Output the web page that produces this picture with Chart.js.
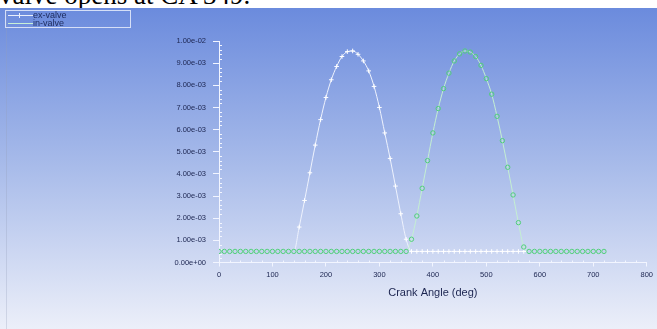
<!DOCTYPE html>
<html lang="en">
<head>
  <meta charset="UTF-8" />
  <title>Valve lift vs crank angle</title>
  <script src="https://cdn.jsdelivr.net/npm/chart.js"></script>
  <style>
    body { margin: 0; background: #fff; }
    #wrap { position: relative; width: 657px; height: 329px; overflow: hidden; background: #fff; }
    #caption { position: absolute; left: 0; top: 0; width: 657px; height: 8px; overflow: hidden; }
    #caption span { position: absolute; left: -1px; top: -18px; font: 27px/27px 'Liberation Serif', 'Times New Roman', serif; color: #000; white-space: nowrap; }
    #plot { position: absolute; left: 0; top: 8px; width: 657px; height: 321px;
            background: linear-gradient(#6b8bdd, #a9bcea 50%, #eceff9); }
    #plot .edge { position: absolute; left: 6px; top: 0; width: 1px; height: 100%; background: rgba(150,160,185,0.3); }
    #legend { position: absolute; left: 5px; top: 10px; width: 124px; height: 16px;
              border: 1px solid rgba(225,232,250,0.9); font: 9px/7px 'Liberation Sans', Arial, sans-serif; color: #1c2a5c; }
    #legend .row { position: relative; height: 7px; margin-top: 1px; }
    #legend .line { position: absolute; left: 2px; top: 3px; width: 25px; height: 1px; }
    #legend .mark { position: absolute; left: 13px; top: 1px; width: 1px; height: 5px; }
    #legend .label { position: absolute; left: 27px; top: 0; }
  </style>
</head>
<body>
  <div id="wrap">
    <div id="caption"><span>valve opens at CA 349.</span></div>
    <div id="plot">
      <div class="edge"></div>
      <canvas id="valveChart"></canvas>
    </div>
    <div id="legend">
      <div class="row"><div class="line" style="background:#e8eefc"></div><div class="mark" style="background:#e8eefc"></div><div class="label">ex-valve</div></div>
      <div class="row"><div class="line" style="background:#c8f0d6"></div><div class="label">in-valve</div></div>
    </div>
  </div>

  <script>
    // crank angle (deg)
    const crankAngle = [0, 10, 20, 30, 40, 50, 60, 70, 80, 90, 100, 110, 120, 130, 140,
      150, 160, 170, 180, 190, 200, 210, 220, 230, 240, 250, 260, 270, 280, 290, 300,
      310, 320, 330, 340, 350, 360, 370, 380, 390, 400, 410, 420, 430, 440, 450, 460,
      470, 480, 490, 500, 510, 520, 530, 540, 550, 560, 570, 580, 590, 600, 610, 620,
      630, 640, 650, 660, 670, 680, 690, 700, 710, 720];

    // exhaust valve lift
    const exValve = [5.0e-4, 5.0e-4, 5.0e-4, 5.0e-4, 5.0e-4, 5.0e-4, 5.0e-4, 5.0e-4, 5.0e-4, 5.0e-4,
      5.0e-4, 5.0e-4, 5.0e-4, 5.0e-4, 5.0e-4,
      1.60e-3, 2.80e-3, 4.05e-3, 5.30e-3, 6.45e-3, 7.45e-3, 8.25e-3, 8.85e-3, 9.30e-3, 9.52e-3,
      9.55e-3, 9.40e-3, 9.10e-3, 8.65e-3, 7.95e-3, 7.00e-3, 5.85e-3, 4.70e-3, 3.45e-3, 2.20e-3,
      1.05e-3,
      5.0e-4, 5.0e-4, 5.0e-4, 5.0e-4, 5.0e-4, 5.0e-4, 5.0e-4, 5.0e-4, 5.0e-4, 5.0e-4,
      5.0e-4, 5.0e-4, 5.0e-4, 5.0e-4, 5.0e-4, 5.0e-4, 5.0e-4, 5.0e-4, 5.0e-4, 5.0e-4,
      5.0e-4, 5.0e-4, 5.0e-4, 5.0e-4, 5.0e-4, 5.0e-4, 5.0e-4, 5.0e-4, 5.0e-4, 5.0e-4,
      5.0e-4, 5.0e-4, 5.0e-4, 5.0e-4, 5.0e-4, 5.0e-4, 5.0e-4];

    // intake valve lift
    const inValve = [5.0e-4, 5.0e-4, 5.0e-4, 5.0e-4, 5.0e-4, 5.0e-4, 5.0e-4, 5.0e-4, 5.0e-4, 5.0e-4,
      5.0e-4, 5.0e-4, 5.0e-4, 5.0e-4, 5.0e-4, 5.0e-4, 5.0e-4, 5.0e-4, 5.0e-4, 5.0e-4,
      5.0e-4, 5.0e-4, 5.0e-4, 5.0e-4, 5.0e-4, 5.0e-4, 5.0e-4, 5.0e-4, 5.0e-4, 5.0e-4,
      5.0e-4, 5.0e-4, 5.0e-4, 5.0e-4, 5.0e-4, 5.0e-4,
      1.05e-3, 2.10e-3, 3.35e-3, 4.60e-3, 5.85e-3, 6.95e-3, 7.85e-3, 8.55e-3, 9.10e-3, 9.42e-3,
      9.55e-3, 9.50e-3, 9.30e-3, 8.90e-3, 8.30e-3, 7.60e-3, 6.60e-3, 5.50e-3, 4.30e-3, 3.05e-3,
      1.80e-3, 7.0e-4,
      5.0e-4, 5.0e-4, 5.0e-4, 5.0e-4, 5.0e-4, 5.0e-4, 5.0e-4, 5.0e-4, 5.0e-4, 5.0e-4,
      5.0e-4, 5.0e-4, 5.0e-4, 5.0e-4, 5.0e-4];

    const xTicks = [0, 100, 200, 300, 400, 500, 600, 700, 800];
    const yTicks = [0, 1e-3, 2e-3, 3e-3, 4e-3, 5e-3, 6e-3, 7e-3, 8e-3, 9e-3, 1e-2];

    const tickFont = { family: "'Liberation Sans Narrow', 'Arial Narrow', 'Liberation Sans', sans-serif", size: 7.5 };
    const inkColor = '#1c2550';
    const axisColor = '#f2f5ff';

    // 1.00e-02 style labels
    function sci(v) {
      if (Math.abs(v) < 1e-12) return '0.00e+00';
      const parts = v.toExponential(2).split('e');
      const n = parseInt(parts[1], 10);
      return parts[0] + 'e' + (n < 0 ? '-' : '+') + String(Math.abs(n)).padStart(2, '0');
    }

    // small inner ticks between the labelled ones
    const minorTicks = {
      id: 'minorTicks',
      beforeDatasetsDraw(chart) {
        const { ctx, scales: { x, y } } = chart;
        ctx.save();
        ctx.strokeStyle = axisColor;
        ctx.lineWidth = 1;
        ctx.beginPath();
        for (let i = 0; i < yTicks.length - 1; i++) {
          const step = (yTicks[i + 1] - yTicks[i]) / 5;
          for (let k = 1; k < 5; k++) {
            const py = Math.round(y.getPixelForValue(yTicks[i] + k * step)) + 0.5;
            ctx.moveTo(x.left, py);
            ctx.lineTo(x.left + 3, py);
          }
        }
        for (let i = 0; i < xTicks.length - 1; i++) {
          const step = (xTicks[i + 1] - xTicks[i]) / 5;
          for (let k = 1; k < 5; k++) {
            const px = Math.round(x.getPixelForValue(xTicks[i] + k * step)) + 0.5;
            ctx.moveTo(px, y.bottom);
            ctx.lineTo(px, y.bottom - 2);
          }
        }
        ctx.stroke();
        ctx.restore();
      }
    };

    const ctx = document.getElementById('valveChart').getContext('2d');
    new Chart(ctx, {
      type: 'line',
      data: {
        datasets: [
          {
            label: 'ex-valve',
            data: crankAngle.map((a, i) => ({ x: a, y: exValve[i] })),
            borderColor: '#eef2fd',
            borderWidth: 1,
            pointStyle: 'cross',
            pointRadius: 2.3,
            pointBorderColor: '#ffffff',
            pointBorderWidth: 1,
            cubicInterpolationMode: 'monotone',
            order: 2
          },
          {
            label: 'in-valve',
            data: crankAngle.map((a, i) => ({ x: a, y: inValve[i] })),
            borderColor: '#c4efd2',
            borderWidth: 1,
            pointStyle: 'circle',
            pointRadius: 2.2,
            pointBorderColor: '#52cf7b',
            // closed-valve rings sit on top of the ex-valve line, keep them clean
            pointBackgroundColor: c => (c.raw && c.raw.y <= 5.0e-4 ? '#c6d1ef' : 'rgba(0,0,0,0)'),
            pointBorderWidth: 1,
            cubicInterpolationMode: 'monotone',
            order: 1
          }
        ]
      },
      options: {
        responsive: true,
        maintainAspectRatio: false,
        animation: false,
        layout: { padding: { left: 0, right: 9.5, top: 33, bottom: 0 } },
        plugins: { legend: { display: false }, tooltip: { enabled: false } },
        scales: {
          x: {
            type: 'linear',
            min: 0,
            max: 800,
            afterFit(scale) { scale.height = 66.5; },
            afterBuildTicks(scale) { scale.ticks = xTicks.map(v => ({ value: v })); },
            border: { display: true, color: axisColor, width: 1 },
            grid: { display: true, drawOnChartArea: false, drawTicks: true, tickLength: 4, color: axisColor },
            ticks: { color: inkColor, font: tickFont, padding: 4, maxRotation: 0 },
            title: {
              display: true,
              text: 'Crank Angle (deg)',
              color: inkColor,
              font: { family: "'Liberation Sans', Arial, sans-serif", size: 11 },
              padding: { top: 0, bottom: 29 }
            }
          },
          y: {
            min: 0,
            max: 0.01,
            afterFit(scale) { scale.width = 219; },
            afterBuildTicks(scale) { scale.ticks = yTicks.map(v => ({ value: v })); },
            border: { display: true, color: axisColor, width: 1 },
            grid: { display: true, drawOnChartArea: false, drawTicks: true, tickLength: 6, color: axisColor },
            ticks: { color: inkColor, font: tickFont, padding: 7, callback: v => sci(v) }
          }
        }
      },
      plugins: [minorTicks]
    });
  </script>
</body>
</html>
